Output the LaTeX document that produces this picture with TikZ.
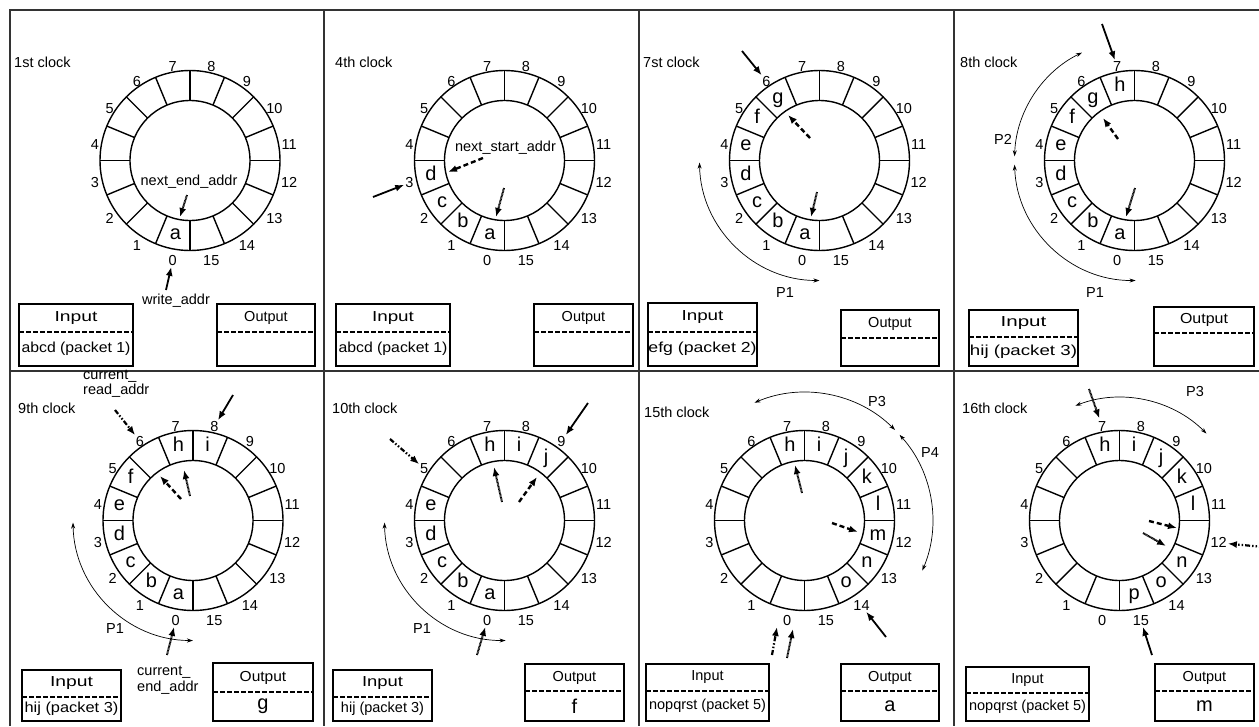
\documentclass[tikz,border=0pt]{standalone}
\usepackage{fontspec}
\setmainfont{Liberation Sans}
\usetikzlibrary{arrows.meta}
\newcommand\myring[3]{%
 \begin{scope}[shift={(#2,#3)}]
  \draw[ringline] (0,0) circle[radius=90];
  \draw[ringline] (0,0) circle[radius=60];
  \foreach \k in {0,...,15}{\draw[ringline] (\k*22.5:60) -- (\k*22.5:90);}
  \foreach \i in {0,...,15}{\node[num] (#1n\i) at ({101.25+22.5*\i}:99) {\i};}
 \end{scope}}
\newcommand\myletters[4]{%
 \begin{scope}[shift={(#2,#3)}]
  \foreach \s/\l in {#4}{\node[let] (#1l\s) at ({101.25+22.5*\s}:75) {\l};}
 \end{scope}}
\newcommand\iobox[8]{%
  \draw[boxln] (#2,#4) rectangle (#3,#6);
  \draw[dashln] (#2,#5) -- (#3,#5);
  \node[lbl] (#1t) at ({(#2+#3)/2},{(#4+#5)/2}) {#7};
  \node[lbl] (#1c) at ({(#2+#3)/2},{(#5+#6)/2}) {#8};}
\begin{document}
\begin{tikzpicture}[x=1pt,y=-1pt,
  lbl/.style={font=\fontsize{14.5}{16}\selectfont, inner sep=0pt},
  num/.style={lbl, xshift=2pt, yshift=-3pt},
  let/.style={font=\fontsize{20}{22}\selectfont, inner sep=0pt, text height=14pt, text depth=4pt},
  ringline/.style={line width=1.4pt},
  frame/.style={line width=2pt, draw=black!80},
  boxln/.style={line width=1.4pt},
  dashln/.style={line width=1.4pt, dash pattern=on 4.5pt off 2.5pt},
  psolid/.style={line width=1.8pt, -{Latex[length=9pt,width=7pt]}},
  pdashed/.style={line width=2.4pt, dash pattern=on 5pt off 3pt, -{Latex[length=9pt,width=7pt]}},
  pdotted/.style={line width=2pt, dash pattern=on 0.9pt off 0.5pt, -{Latex[length=9pt,width=7pt]}},
  pdashdot/.style={line width=2.2pt, dash pattern=on 5pt off 2pt on 1.5pt off 2pt on 1.5pt off 2pt, -{Latex[length=9pt,width=7pt]}},
  parc/.style={line width=0.7pt, {Stealth[length=6pt,width=4pt]}-{Stealth[length=6pt,width=4pt]}},
]
\useasboundingbox (0,0) rectangle (1259,726);
% frames
\draw[frame] (10,726) -- (10,10) -- (1259,10);
\draw[frame] (324,10) -- (324,726);
\draw[frame] (639,10) -- (639,726);
\draw[frame] (954,10) -- (954,726);
\draw[frame] (10,371) -- (1259,371);

%% Panel 1
\myring{pa}{190}{160.5}
\myletters{pa}{190}{160.5}{0/a}
\node[lbl,anchor=west] (pat) at (14,62) {1st clock};
\node[lbl] (pane) at (189,182) {next\_end\_addr};
\coordinate (pad1) at (187,195); \coordinate (pad2) at (180,217);
\draw[pdotted] (pad1) -- (pad2);
\node[lbl] (pawa) at (176,301) {write\_addr};
\coordinate (pas1) at (166,290);
\draw[psolid, shorten >=1pt] (pas1) -- (pan0);
\iobox{pai}{19}{133}{304}{332}{366}{\scalebox{1.33}[1]{Input}}{\scalebox{1.09}[1]{abcd (packet 1)}}
\iobox{pao}{217}{315}{304}{332}{366}{Output}{}

%% Panel 2
\myring{pb}{504.5}{160.5}
\myletters{pb}{504.5}{160.5}{0/a,1/b,2/c,3/d}
\node[lbl,anchor=west] (pbt) at (335,62) {4th clock};
\node[lbl] (pbns) at (505.5,148) {next\_start\_addr};
\coordinate (pbd1) at (483,158); \coordinate (pbd2) at (448,172);
\draw[pdashed] (pbd1) -- (pbd2);
\coordinate (pbo1) at (504,188); \coordinate (pbo2) at (496,217);
\draw[pdotted] (pbo1) -- (pbo2);
\coordinate (pbs1) at (373,197);
\draw[psolid, shorten >=1pt] (pbs1) -- (pbn3);
\iobox{pbi}{336}{450}{304}{332}{366}{\scalebox{1.3}[1]{Input}}{\scalebox{1.09}[1]{abcd (packet 1)}}
\iobox{pbo}{534}{633}{304}{332}{366}{Output}{}

%% Panel 3
\myring{pc}{819.5}{160.5}
\myletters{pc}{819.5}{160.5}{0/a,1/b,2/c,3/d,4/e,5/f,6/g}
\node[lbl,anchor=west] (pct) at (643,62) {7st clock};
\coordinate (pcs1) at (742,51);
\draw[psolid, shorten >=1pt] (pcs1) -- (pcn6);
\coordinate (pcd1) at (810,138); \coordinate (pcd2) at (788,115);
\draw[pdashed] (pcd1) -- (pcd2);
\coordinate (pco1) at (817,192); \coordinate (pco2) at (811,217);
\draw[pdotted] (pco1) -- (pco2);
\draw[parc] (819.5,160.5) ++(-181:120) arc[start angle=-181, end angle=-270, radius=120];
\node[lbl] (pcp1) at (785,293) {P1};
\iobox{pci}{648}{757}{303}{332}{366}{\scalebox{1.3}[1]{Input}}{\scalebox{1.22}[1]{efg (packet 2)}}
\iobox{pco}{841}{939}{310}{338}{366}{Output}{}

%% Panel 4
\myring{pd}{1134.5}{160.5}
\myletters{pd}{1134.5}{160.5}{0/a,1/b,2/c,3/d,4/e,5/f,6/g,7/h}
\node[lbl,anchor=west] (pdt) at (960,62) {8th clock};
\coordinate (pds1) at (1102,24);
\draw[psolid, shorten >=1pt] (pds1) -- (pdn7);
\coordinate (pdd1) at (1118,139); \coordinate (pdd2) at (1103,118);
\draw[pdashed] (pdd1) -- (pdd2);
\coordinate (pdo1) at (1135,188); \coordinate (pdo2) at (1126,217);
\draw[pdotted] (pdo1) -- (pdo2);
\draw[parc] (1134.5,160.5) ++(-178:120) arc[start angle=-178, end angle=-116, radius=120];
\draw[parc] (1134.5,160.5) ++(-182:120) arc[start angle=-182, end angle=-270.5, radius=120];
\node[lbl] (pdp2) at (1003,139) {P2};
\node[lbl] (pdp1) at (1095,293) {P1};
\iobox{pdi}{969}{1078}{310}{337}{366}{\scalebox{1.42}[1]{Input}}{\scalebox{1.29}[1]{hij (packet 3)}}
\iobox{pdo}{1154}{1254}{307}{333}{366}{\scalebox{1.1}[1]{Output}}{}

%% Panel 5
\myring{pe}{193}{520.5}
\myletters{pe}{193}{520.5}{0/a,1/b,2/c,3/d,4/e,5/f,7/h,8/i}
\node[lbl,anchor=west] (pet) at (18,408) {9th clock};
\node[lbl,anchor=west] (pecr1) at (83,376) {current\_};
\node[lbl,anchor=west] (pecr2) at (83,391) {read\_addr};
\coordinate (pex1) at (115,410);
\draw[pdashdot, shorten >=1pt] (pex1) -- (pen6);
\coordinate (pes1) at (233,395);
\draw[psolid, shorten >=1pt] (pes1) -- (pen8);
\coordinate (ped1) at (181,499); \coordinate (ped2) at (160,476);
\draw[pdashed] (ped1) -- (ped2);
\coordinate (peo1) at (190,496); \coordinate (peo2) at (184,470);
\draw[pdotted] (peo1) -- (peo2);
\coordinate (peb1) at (167,655);
\draw[pdotted, shorten >=1pt] (peb1) -- (pen0);
\draw[parc] (193,520.5) ++(-181:120) arc[start angle=-181, end angle=-270, radius=120];
\node[lbl] (pep1) at (115,629) {P1};
\node[lbl,anchor=west] (pece1) at (137,672) {current\_};
\node[lbl,anchor=west] (pece2) at (137,688) {end\_addr};
\iobox{pei}{22}{121}{670}{697}{721}{\scalebox{1.33}[1]{Input}}{\scalebox{1.13}[1]{hij (packet 3)}}
\iobox{peo}{213}{313}{663}{692}{721}{\scalebox{1.07}[1]{Output}}{\fontsize{20}{22}\selectfont g}

%% Panel 6
\myring{pf}{504.5}{520.5}
\myletters{pf}{504.5}{520.5}{0/a,1/b,2/c,3/d,4/e,7/h,8/i,9/j}
\node[lbl,anchor=west] (pft) at (332,408) {10th clock};
\coordinate (pfs1) at (588,403);
\draw[psolid, shorten >=1pt] (pfs1) -- (pfn9);
\coordinate (pfx1) at (390,439);
\draw[pdashdot, shorten >=1pt] (pfx1) -- (pfn5);
\coordinate (pfo1) at (502,502); \coordinate (pfo2) at (494,467);
\draw[pdotted] (pfo1) -- (pfo2);
\coordinate (pfd1) at (519,502); \coordinate (pfd2) at (537,477);
\draw[pdashed] (pfd1) -- (pfd2);
\coordinate (pfb1) at (477,655);
\draw[pdotted, shorten >=1pt] (pfb1) -- (pfn0);
\draw[parc] (504.5,520.5) ++(-181:120) arc[start angle=-181, end angle=-270.5, radius=120];
\node[lbl] (pfp1) at (422,629) {P1};
\iobox{pfi}{333}{432}{670}{697}{721}{\scalebox{1.27}[1]{Input}}{hij (packet 3)}
\iobox{pfo}{525}{624}{664}{691}{721}{Output}{\fontsize{20}{22}\selectfont f}

%% Panel 7
\myring{pg}{804.5}{520.5}
\myletters{pg}{804.5}{520.5}{7/h,8/i,9/j,10/k,11/l,12/m,13/n,14/o}
\node[lbl,anchor=west] (pgt) at (644,412) {15th clock};
\coordinate (pgo1) at (802,493); \coordinate (pgo2) at (795,465);
\draw[pdotted] (pgo1) -- (pgo2);
\coordinate (pgd1) at (832,523); \coordinate (pgd2) at (858,532);
\draw[pdashed] (pgd1) -- (pgd2);
\coordinate (pgs1) at (886,637);
\draw[psolid, shorten >=1pt] (pgs1) -- (pgn14);
\coordinate (pgx1) at (772,655); \coordinate (pgx2) at (777,627);
\draw[pdashdot] (pgx1) -- (pgx2);
\coordinate (pgb1) at (787,658); \coordinate (pgb2) at (793,629);
\draw[pdotted] (pgb1) -- (pgb2);
\draw[parc] (804.5,520.5) ++(-113:128) arc[start angle=-113, end angle=-45, radius=128];
\draw[parc] (804.5,520.5) ++(-42:128) arc[start angle=-42, end angle=23, radius=128];
\node[lbl] (pgp3) at (877,402) {P3};
\node[lbl] (pgp4) at (930,453) {P4};
\iobox{pgi}{646}{769}{664}{691}{721}{Input}{nopqrst (packet 5)}
\iobox{pgo}{841}{939}{664}{691}{721}{Output}{\fontsize{20}{22}\selectfont a}

%% Panel 8
\myring{ph}{1119.5}{520.5}
\myletters{ph}{1119.5}{520.5}{7/h,8/i,9/j,10/k,11/l,13/n,14/o,15/p}
\node[lbl,anchor=west] (pht) at (962,408) {16th clock};
\coordinate (pho1) at (1089,389);
\draw[pdotted, shorten >=3pt] (pho1) -- (phn7);
\draw[parc] (1119.5,520.5) ++(-111:123) arc[start angle=-111, end angle=-45, radius=123];
\node[lbl] (php3) at (1195,392) {P3};
\coordinate (phd1) at (1149,521); \coordinate (phd2) at (1177,528);
\draw[pdashed] (phd1) -- (phd2);
\coordinate (phq1) at (1143,533); \coordinate (phq2) at (1166,546);
\draw[pdotted] (phq1) -- (phq2);
\coordinate (phx1) at (1264,547);
\draw[pdashdot, shorten >=1pt] (phx1) -- (phn12);
\coordinate (phs1) at (1152,655);
\draw[psolid, shorten >=1pt] (phs1) -- (phn15);
\iobox{phi}{966}{1089}{667}{693}{721}{Input}{nopqrst (packet 5)}
\iobox{pho}{1155}{1254}{664}{691}{721}{Output}{\fontsize{20}{22}\selectfont m}
\end{tikzpicture}
\end{document}
